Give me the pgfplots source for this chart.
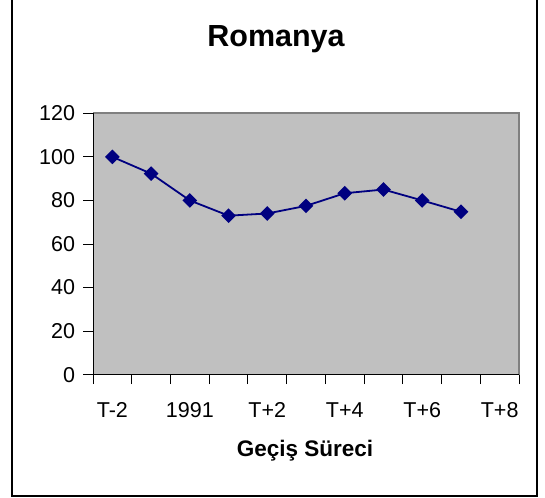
\documentclass[border=0pt]{standalone}
\usepackage{fontspec}
\setmainfont{Liberation Sans}
\usepackage{pgfplots}
\pgfplotsset{compat=1.18}
\definecolor{plotbg}{RGB}{192,192,192}
\definecolor{navyline}{RGB}{0,0,128}
\definecolor{framegray}{RGB}{128,128,128}
\begin{document}
\begin{tikzpicture}[x=1pt,y=1pt]
\useasboundingbox (0,0) rectangle (545,497);
\fill[white] (0,0) rectangle (545,497);
\draw[black, line width=2pt] (12,497) -- (12,1) -- (537,1) -- (537,497);
\node[font=\bfseries\fontsize{30.5}{34}\selectfont] at (276,458) {Romanya};
\node[font=\bfseries\fontsize{22.5}{26}\selectfont] at (305,46) {Geçiş Süreci};
\begin{axis}[
  at={(93pt,122.3pt)}, anchor=south west,
  scale only axis, width=426pt, height=261.4pt,
  xmin=-0.5, xmax=10.5, ymin=0, ymax=120,
  ytick={0,20,...,120},
  xtick={-0.5,0.5,...,10.5},
  xticklabels={},
  extra x ticks={0,2,4,6,8,10},
  extra x tick labels={T-2,1991,T+2,T+4,T+6,T+8},
  extra x tick style={tick style={draw=none}},
  xtick pos=left, ytick pos=left,
  tick align=outside,
  major tick length=9.5pt,
  tick style={black, line width=0.9pt},
  axis line style={draw=none},
  axis background/.style={fill=plotbg},
  ticklabel style={font=\fontsize{21.5}{25}\selectfont},
  /pgf/number format/assume math mode=true,
  xticklabel style={yshift=-15pt},
  yticklabel style={xshift=-5pt},
  clip=false,
]
\draw[framegray, line width=2pt] (rel axis cs:0,1) -- (rel axis cs:1,1) -- (rel axis cs:1,0);
\draw[black, line width=1pt] (rel axis cs:0,1) -- (rel axis cs:0,0) -- (rel axis cs:1,0);
\addplot[navyline, line width=1.8pt, mark=square*, mark size=4.3pt,
  mark options={rotate=45, solid, fill=navyline}] coordinates {
  (0,100) (1,92.3) (2,80) (3,73) (4,74) (5,77.5) (6,83.3) (7,85) (8,80) (9,74.8)
};
\end{axis}
\end{tikzpicture}
\end{document}
